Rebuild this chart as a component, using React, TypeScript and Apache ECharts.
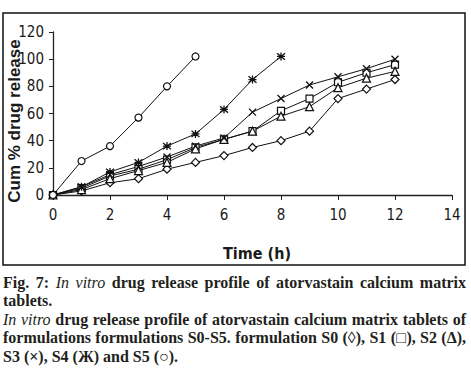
import React, { useEffect, useRef } from "react";
import * as echarts from "echarts";

const timesS5 = [0, 1, 2, 3, 4, 5];
const timesS4 = [0, 1, 2, 3, 4, 5, 6, 7, 8];
const timesAll = [0, 1, 2, 3, 4, 5, 6, 7, 8, 9, 10, 11, 12];

const s0Values = [0, 3, 9, 12, 19, 24, 29, 35, 40, 47, 71, 78, 85];
const s1Values = [0, 5, 14, 19, 26, 35, 41, 47, 62, 71, 83, 90, 96];
const s2Values = [0, 4, 12, 18, 24, 34, 41, 47, 58, 65, 79, 86, 91];
const s3Values = [0, 6, 15, 21, 28, 36, 42, 61, 71, 81, 87, 93, 100];
const s4Values = [0, 6, 17, 24, 36, 45, 63, 85, 102];
const s5Values = [0, 25, 36, 57, 80, 102];

const yTicks = [0, 20, 40, 60, 80, 100, 120];
const xTicks = [0, 2, 4, 6, 8, 10, 12, 14];

const seriesNames = ["S0", "S1", "S2", "S3", "S4", "S5"];
const yTitle = "Cum % drug release";
const xTitle = "Time (h)";

const pairs = (t: number[], v: number[]) => v.map((y, i) => [t[i], y]);

const App: React.FC = () => {
  const ref = useRef<HTMLDivElement>(null);

  useEffect(() => {
    if (!ref.current) return;
    const chart = echarts.init(ref.current, undefined, { renderer: "svg" });
    const labelFont = "'Liberation Sans Narrow', 'DejaVu Sans Condensed', Arial, sans-serif";
    const baseLine = (name: string, data: number[][], symbol: string, size: number, pathSym = false) => ({
      name,
      type: "line",
      data,
      symbol,
      symbolSize: size,
      showAllSymbol: true,
      lineStyle: { color: "#111", width: 1, type: "solid" },
      itemStyle: pathSym
        ? { color: "#111", borderColor: "#111", borderWidth: 1.3 }
        : { color: "#ffffff", borderColor: "#111", borderWidth: 1.2 },
      z: 3,
    });
    chart.setOption({
      animation: false,
      backgroundColor: "#fff",
      grid: { left: 53, right: 19, top: 32, bottom: 187, outerBoundsMode: "none", containLabel: false },
      xAxis: {
        type: "value",
        min: 0,
        max: 14,
        interval: 2,
        name: xTitle,
        nameLocation: "middle",
        nameGap: 50,
        nameTextStyle: { fontFamily: labelFont, fontSize: 16, fontWeight: "bold", color: "#1a1a1a", padding: [0, 0, 0, 9] },
        axisLine: { show: true, onZero: false, lineStyle: { color: "#222", width: 1.3 } },
        axisTick: { show: true, length: 5, lineStyle: { color: "#222" } },
        splitLine: { show: false },
        axisLabel: {
          margin: 12,
          fontFamily: labelFont,
          fontSize: 15,
          color: "#1a1a1a",
          formatter: (v: number) => (xTicks.includes(v) ? String(v) : ""),
        },
      },
      yAxis: {
        type: "value",
        min: 0,
        max: 120,
        interval: 20,
        axisLine: { show: true, lineStyle: { color: "#222", width: 1.3 } },
        axisTick: { show: true, length: 4, lineStyle: { color: "#222" } },
        splitLine: { show: false },
        axisLabel: {
          margin: 9,
          fontFamily: labelFont,
          fontSize: 15,
          color: "#1a1a1a",
          formatter: (v: number) => (yTicks.includes(v) ? String(v) : ""),
        },
      },
      graphic: [
        {
          type: "rect",
          shape: { x: 3, y: 13, width: 462, height: 252 },
          style: { fill: "none", stroke: "#111", lineWidth: 1.5 },
          silent: true,
        },
        {
          type: "text",
          x: 14,
          y: 121,
          rotation: Math.PI / 2,
          style: {
            text: yTitle,
            fill: "#1a1a1a",
            font: "bold 17px 'Liberation Sans', Arial, sans-serif",
            align: "center",
            verticalAlign: "middle",
          },
          silent: true,
        },
      ],
      series: [
        baseLine(seriesNames[0], pairs(timesAll, s0Values), "diamond", 8),
        baseLine(seriesNames[1], pairs(timesAll, s1Values), "rect", 7),
        baseLine(seriesNames[2], pairs(timesAll, s2Values), "triangle", 8),
        baseLine(seriesNames[3], pairs(timesAll, s3Values), "path://M0,0L10,10M10,0L0,10", 7, true),
        baseLine(seriesNames[4], pairs(timesS4, s4Values), "path://M5,0L5,10M0,1L10,9M10,1L0,9M0,5L10,5", 8, true),
        baseLine(seriesNames[5], pairs(timesS5, s5Values), "circle", 7),
      ],
    });
    return () => chart.dispose();
  }, []);

  const capFont = "'Liberation Serif', 'DejaVu Serif', serif";
  const lineStyle: React.CSSProperties = {
    whiteSpace: "nowrap",
    height: 18.4,
    lineHeight: "18.4px",
  };
  const just: React.CSSProperties = { ...lineStyle, textAlign: "justify", textAlignLast: "justify" as any };
  const ital: React.CSSProperties = { fontStyle: "italic", fontWeight: "normal" };

  return (
    <div style={{ position: "fixed", left: 0, top: 0, width: 471, height: 382, background: "#fff" }}>
      <div ref={ref} style={{ position: "absolute", left: 0, top: 0, width: 471, height: 382 }} />
      <div
        style={{
          position: "absolute",
          left: 3,
          top: 274,
          width: 463,
          fontFamily: capFont,
          fontSize: 16,
          fontWeight: "bold",
          color: "#231f20",
        }}
      >
        <div style={just}>
          Fig. 7: <span style={ital}>In vitro</span> drug release profile of atorvastain calcium matrix
        </div>
        <div style={lineStyle}>tablets.</div>
        <div style={just}>
          <span style={ital}>In vitro</span> drug release profile of atorvastain calcium matrix tablets of
        </div>
        <div style={just}>formulations formulations S0-S5. formulation S0 (◊), S1 (□), S2 (Δ),</div>
        <div style={lineStyle}>S3 (×), S4 (Ж) and S5 (○).</div>
      </div>
    </div>
  );
};

export default App;
